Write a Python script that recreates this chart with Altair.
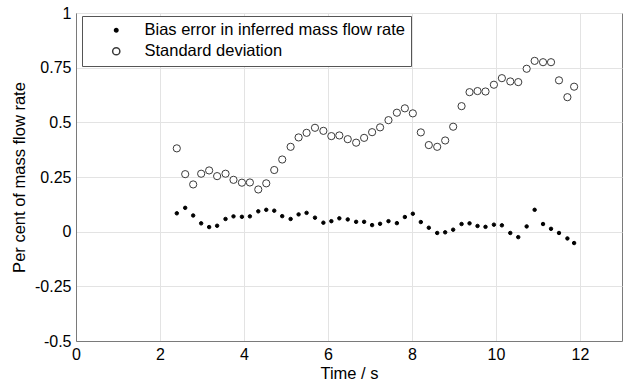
import altair as alt
import pandas as pd

time_s = [2.40, 2.60, 2.79, 2.98, 3.17, 3.36, 3.56, 3.75, 3.95, 4.14,
          4.34, 4.53, 4.72, 4.91, 5.11, 5.30, 5.49, 5.69, 5.89, 6.08,
          6.27, 6.47, 6.67, 6.86, 7.05, 7.24, 7.44, 7.64, 7.83, 8.02,
          8.21, 8.40, 8.60, 8.79, 8.98, 9.18, 9.37, 9.56, 9.75, 9.95,
          10.14, 10.34, 10.53, 10.73, 10.92, 11.12, 11.31, 11.50, 11.70, 11.86]

bias = [0.084, 0.109, 0.074, 0.038, 0.021, 0.027, 0.058, 0.070, 0.068, 0.070,
        0.093, 0.100, 0.096, 0.071, 0.058, 0.079, 0.086, 0.064, 0.041, 0.048,
        0.061, 0.056, 0.045, 0.045, 0.030, 0.036, 0.048, 0.039, 0.067, 0.082,
        0.044, 0.018, -0.006, -0.003, 0.009, 0.035, 0.038, 0.026, 0.022, 0.032,
        0.029, -0.006, -0.025, 0.024, 0.100, 0.035, 0.013, -0.006, -0.031, -0.052]

std_dev = [0.381, 0.263, 0.216, 0.265, 0.280, 0.254, 0.265, 0.237, 0.224, 0.225,
           0.193, 0.221, 0.282, 0.330, 0.388, 0.431, 0.452, 0.475, 0.461, 0.437,
           0.440, 0.423, 0.407, 0.429, 0.455, 0.477, 0.510, 0.544, 0.564, 0.541,
           0.454, 0.396, 0.388, 0.417, 0.480, 0.574, 0.638, 0.643, 0.641, 0.672,
           0.702, 0.687, 0.684, 0.745, 0.781, 0.775, 0.775, 0.692, 0.615, 0.663]

series_names = ["Bias error in inferred mass flow rate", "Standard deviation"]

rows = []
for t, v in zip(time_s, bias):
    rows.append({"t": t, "v": v, "series": series_names[0]})
for t, v in zip(time_s, std_dev):
    rows.append({"t": t, "v": v, "series": series_names[1]})
df = pd.DataFrame(rows)

FONT = "Liberation Sans"

chart = alt.Chart(df).mark_point(opacity=1, strokeWidth=1).encode(
    x=alt.X("t:Q", title="Time / s",
            scale=alt.Scale(domain=[0, 13], nice=False, zero=False),
            axis=alt.Axis(values=[0, 2, 4, 6, 8, 10, 12], format="d")),
    y=alt.Y("v:Q", title="Per cent of mass flow rate",
            scale=alt.Scale(domain=[-0.5, 1], nice=False),
            axis=alt.Axis(values=[-0.5, -0.25, 0, 0.25, 0.5, 0.75, 1], format=".2~f",
                          labelExpr="replace(datum.label, '\u2212', '-')")),
    stroke=alt.Stroke("series:N", title=None,
                      scale=alt.Scale(domain=series_names, range=["#000000", "#3a3a3a"])),
    fill=alt.Fill("series:N", title=None,
                  scale=alt.Scale(domain=series_names, range=["#000000", "#ffffff"])),
    size=alt.Size("series:N", title=None,
                  scale=alt.Scale(domain=series_names, range=[12, 52])),
).properties(
    width=546, height=328,
    padding={"left": 76, "top": 13, "right": 1, "bottom": 40},
    autosize=alt.AutoSizeParams(type="none"),
).configure_view(
    stroke="#7a7a7a", strokeWidth=1
).configure_axis(
    labelFont=FONT, titleFont=FONT,
    labelFontSize=16, titleFontSize=16.5,
    labelColor="#000000", titleColor="#000000",
    titleFontWeight="normal",
    domainColor="#7a7a7a", tickColor="#7a7a7a",
    gridColor="#e3e3e3", tickSize=0,
    labelPadding=5, labelFlush=False,
).configure_axisX(
    titlePadding=3,
).configure_axisY(
    titlePadding=7,
).configure_legend(
    orient="none", legendX=6, legendY=3,
    strokeColor="#555555", fillColor="#ffffff",
    padding=6,
    labelFont=FONT, labelFontSize=16.5, labelColor="#000000",
    labelLimit=0,
    symbolOffset=20, labelOffset=20,
    rowPadding=4,
)

chart.save("out.html", embed_options={"renderer": "svg", "actions": False})
